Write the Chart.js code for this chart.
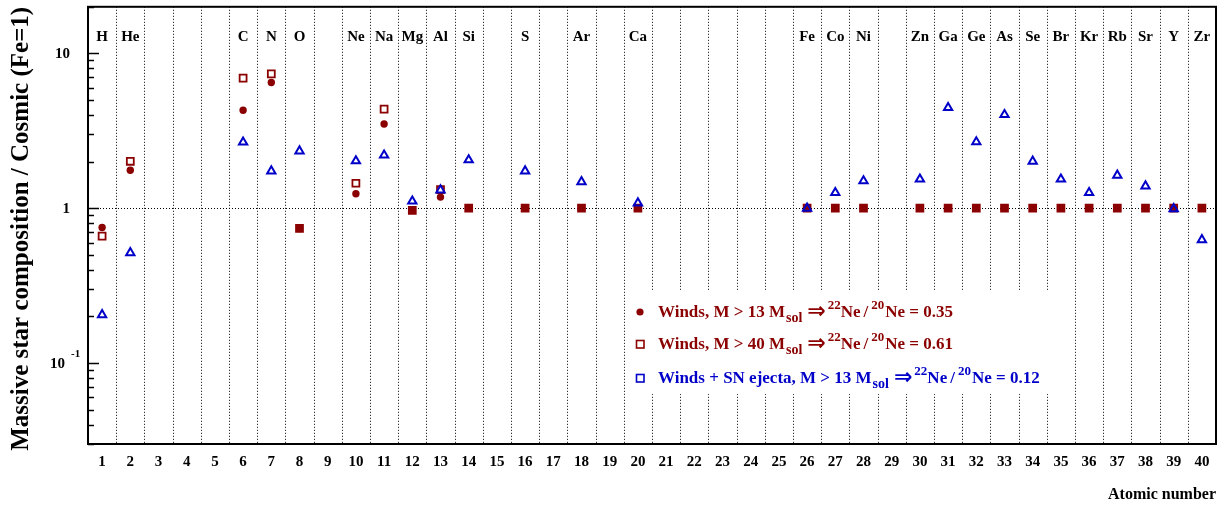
<!DOCTYPE html>
<html>
<head>
<meta charset="utf-8">
<script src="https://cdn.jsdelivr.net/npm/chart.js@4/dist/chart.umd.min.js"></script>
<style>
  html, body { margin: 0; padding: 0; background: #ffffff; }
  #wrap { width: 1228px; height: 505px; }
</style>
</head>
<body>
<div id="wrap"><canvas id="c" width="1228" height="505"></canvas></div>
<script>
// Elements shown along the axis (atomic number + symbol)
const atomicNumbers = [1, 2, 6, 7, 8, 10, 11, 12, 13, 14, 16, 18, 20, 26, 27, 28,
                       30, 31, 32, 33, 34, 35, 36, 37, 38, 39, 40];
const elementSymbols = ['H', 'He', 'C', 'N', 'O', 'Ne', 'Na', 'Mg', 'Al', 'Si', 'S', 'Ar', 'Ca',
                        'Fe', 'Co', 'Ni', 'Zn', 'Ga', 'Ge', 'As', 'Se', 'Br', 'Kr', 'Rb', 'Sr', 'Y', 'Zr'];

// Composition relative to cosmic abundances (Fe = 1)
const windsM13 = [0.75, 1.76, 4.29, 6.49, 0.74, 1.24, 3.50, 0.97, 1.18, 1, 1, 1, 1,
                  1, 1, 1, 1, 1, 1, 1, 1, 1, 1, 1, 1, 1, 1];
const windsM40 = [0.66, 2.01, 6.92, 7.38, 0.74, 1.45, 4.37, 0.97, 1.32, 1, 1, 1, 1,
                  1, 1, 1, 1, 1, 1, 1, 1, 1, 1, 1, 1, 1, 1];
const windsSN  = [0.205, 0.515, 2.67, 1.74, 2.34, 2.02, 2.20, 1.11, 1.31, 2.05, 1.74, 1.48, 1.08,
                  1.0, 1.26, 1.50, 1.54, 4.46, 2.68, 4.02, 2.01, 1.54, 1.26, 1.63, 1.39, 0.99, 0.625];

// Legend entries
const legendTexts = ['Winds, M > 13 M', 'Winds, M > 40 M', 'Winds + SN ejecta, M > 13 M'];
const neRatios = ['0.35', '0.61', '0.12'];

// Axis ticks
const xTickLabels = [1, 2, 3, 4, 5, 6, 7, 8, 9, 10, 11, 12, 13, 14, 15, 16, 17, 18, 19, 20,
                     21, 22, 23, 24, 25, 26, 27, 28, 29, 30, 31, 32, 33, 34, 35, 36, 37, 38, 39, 40];
const yTickValues = [10, 1, 0.1];
const yTickBases = ['10', '1', '10'];
const yTickExponents = ['', '', '-1'];

const RED = '#8b0000';
const BLUE = '#0000c8';
const SERIF = '"Liberation Serif", "DejaVu Serif", serif';

function pts(vals) {
  return atomicNumbers.map((z, i) => ({ x: z, y: vals[i] }));
}

// Frame, ticks, grid, labels and legend
const framePlugin = {
  id: 'frame',
  beforeDatasetsDraw(chart) {
    const { ctx, chartArea: a, scales: { x, y } } = chart;
    ctx.save();
    ctx.strokeStyle = '#000';
    ctx.lineWidth = 1;
    ctx.setLineDash([1, 2]);
    // vertical separators between atomic numbers
    for (let k = 1; k < xTickLabels.length; k++) {
      const px = Math.round(x.getPixelForValue(xTickLabels[k - 1] + 0.5)) + 0.5;
      ctx.beginPath();
      ctx.moveTo(px, a.top);
      ctx.lineTo(px, a.bottom);
      ctx.stroke();
    }
    // reference line at unity
    const py1 = Math.round(y.getPixelForValue(1)) + 0.5;
    ctx.beginPath();
    ctx.moveTo(a.left, py1);
    ctx.lineTo(a.right, py1);
    ctx.stroke();
    ctx.restore();
  },
  afterDatasetsDraw(chart) {
    const { ctx, chartArea: a, scales: { x, y } } = chart;
    ctx.save();
    // log ticks on the left axis
    ctx.strokeStyle = '#000';
    ctx.lineWidth = 1.5;
    const [lo, hi] = [y.min, y.max];
    for (let e = -2; e <= 1; e++) {
      for (let m = 1; m <= 9; m++) {
        const v = m * Math.pow(10, e);
        if (v < lo * 0.999 || v > hi * 1.001) continue;
        const py = Math.round(y.getPixelForValue(v)) + 0.5;
        const len = m === 1 ? 11 : 6;
        ctx.beginPath();
        ctx.moveTo(a.left, py);
        ctx.lineTo(a.left + len, py);
        ctx.stroke();
      }
    }
    // frame
    ctx.lineWidth = 2;
    ctx.strokeRect(a.left, a.top, a.right - a.left, a.bottom - a.top);

    ctx.fillStyle = '#000';
    // x tick labels
    ctx.font = 'bold 15px ' + SERIF;
    ctx.textAlign = 'center';
    ctx.textBaseline = 'alphabetic';
    xTickLabels.forEach(v => ctx.fillText(String(v), x.getPixelForValue(v), a.bottom + 22));
    // element symbols
    atomicNumbers.forEach((z, i) => ctx.fillText(elementSymbols[i], x.getPixelForValue(z), 41));
    // y tick labels
    yTickValues.forEach((v, i) => {
      const py = y.getPixelForValue(v);
      ctx.font = 'bold 15px ' + SERIF;
      if (yTickExponents[i]) {
        ctx.textAlign = 'right';
        ctx.fillText(yTickBases[i], 65, py + 5);
        ctx.font = 'bold 11px ' + SERIF;
        ctx.textAlign = 'left';
        ctx.fillText(yTickExponents[i], 71, py - 6);
      } else {
        ctx.textAlign = 'right';
        ctx.fillText(yTickBases[i], 70, py + 5);
      }
    });
    // axis titles
    ctx.font = 'bold 16px ' + SERIF;
    ctx.textAlign = 'right';
    ctx.fillText('Atomic number', a.right, a.bottom + 55);
    ctx.save();
    ctx.translate(28, a.top);
    ctx.rotate(-Math.PI / 2);
    ctx.font = 'bold 25px ' + SERIF;
    ctx.textAlign = 'right';
    ctx.fillText('Massive star composition / Cosmic (Fe=1)', 0, 0);
    ctx.restore();

    // legend box
    ctx.fillStyle = '#fff';
    ctx.fillRect(627, 291, 433, 103);
    const rows = [
      { y: 317, color: RED, marker: 'circle' },
      { y: 349, color: RED, marker: 'square' },
      { y: 383, color: BLUE, marker: 'square' }
    ];
    rows.forEach((r, i) => {
      const my = r.y - 5;
      ctx.fillStyle = r.color;
      ctx.strokeStyle = r.color;
      if (r.marker === 'circle') {
        ctx.beginPath();
        ctx.arc(640, my, 3.6, 0, Math.PI * 2);
        ctx.fill();
      } else {
        ctx.lineWidth = 1.6;
        ctx.strokeRect(636.5, my - 3.5, 7.5, 7.5);
      }
      const segs = [
        { t: legendTexts[i], s: 17, dy: 0, gap: 0 },
        { t: 'sol', s: 14, dy: 5, gap: 1 },
        { t: '\u21D2', s: 22, dy: 1, gap: 5, f: '"DejaVu Sans", sans-serif' },
        { t: '22', s: 13, dy: -8, gap: 2 },
        { t: 'Ne', s: 17, dy: 0, gap: 0 },
        { t: '/', s: 17, dy: 0, gap: 3 },
        { t: '20', s: 13, dy: -8, gap: 3 },
        { t: 'Ne = ' + neRatios[i], s: 17, dy: 0, gap: 1 }
      ];
      let cx = 658;
      ctx.textAlign = 'left';
      segs.forEach(sg => {
        cx += sg.gap;
        ctx.font = 'bold ' + sg.s + 'px ' + (sg.f || SERIF);
        ctx.fillText(sg.t, cx, r.y + sg.dy);
        cx += ctx.measureText(sg.t).width;
      });
    });
    ctx.restore();
  }
};

new Chart(document.getElementById('c'), {
  type: 'scatter',
  data: {
    datasets: [
      {
        label: 'Winds + SN ejecta, M > 13 Msol',
        data: pts(windsSN),
        order: 0,
        pointStyle: 'triangle',
        pointRadius: 4.8,
        pointBorderWidth: 2,
        borderColor: BLUE,
        backgroundColor: 'rgba(0,0,0,0)'
      },
      {
        label: 'Winds, M > 13 Msol',
        data: pts(windsM13),
        order: 1,
        pointStyle: 'circle',
        pointRadius: 3.7,
        pointBorderWidth: 0,
        borderColor: RED,
        backgroundColor: RED
      },
      {
        label: 'Winds, M > 40 Msol',
        data: pts(windsM40),
        order: 2,
        pointStyle: 'rect',
        pointRadius: 4.9,
        pointBorderWidth: 1.8,
        borderColor: RED,
        backgroundColor: 'rgba(0,0,0,0)'
      }
    ]
  },
  options: {
    responsive: false,
    animation: false,
    layout: { padding: { left: 88, right: 12, top: 6, bottom: 61 } },
    plugins: { legend: { display: false }, tooltip: { enabled: false } },
    scales: {
      x: { type: 'linear', min: 0.5, max: 40.5, bounds: 'data', display: false },
      y: { type: 'logarithmic', min: 0.03, max: 20, bounds: 'data', display: false }
    }
  },
  plugins: [framePlugin]
});
</script>
</body>
</html>
